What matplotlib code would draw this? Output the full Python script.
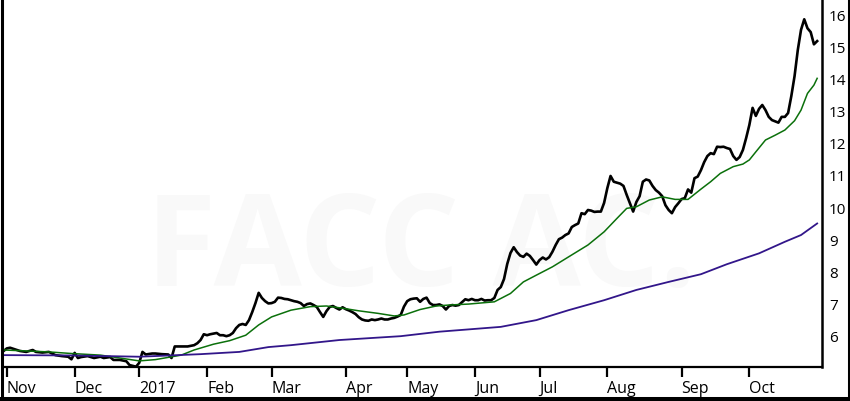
import matplotlib

matplotlib.use("Agg")
import matplotlib.pyplot as plt
from matplotlib.lines import Line2D

# trading-session number (0 = first session of Nov 2016) and closing price
PRICE_DAY = [
    -1, 0, 1, 4, 6, 8, 9, 11, 13, 15, 17, 19, 20, 21, 22, 23, 25, 27, 29, 30,
    32, 33, 35, 37, 38, 40, 41, 42, 43, 45, 46, 48, 50, 51, 52, 54, 56, 58, 59, 60,
    61, 62, 63, 64, 65, 66, 67, 68, 69, 70, 71, 72, 73, 74, 75, 76, 77, 78, 79, 80,
    81, 82, 83, 84, 85, 86, 87, 88, 89, 90, 91, 92, 93, 94, 95, 96, 97, 98, 99, 100,
    101, 102, 103, 104, 105, 106, 107, 108, 109, 110, 111, 112, 113, 114, 115, 116, 117, 118, 119, 120,
    121, 122, 123, 124, 125, 126, 127, 128, 129, 130, 131, 132, 133, 134, 135, 136, 137, 138, 139, 140,
    141, 142, 143, 144, 145, 146, 147, 148, 149, 150, 151, 152, 153, 154, 155, 156, 157, 158, 159, 160,
    161, 162, 163, 164, 165, 166, 167, 168, 169, 170, 171, 172, 173, 174, 175, 176, 177, 178, 179, 180,
    181, 182, 183, 184, 185, 186, 187, 188, 189, 190, 191, 192, 193, 194, 195, 196, 197, 198, 199, 200,
    201, 202, 203, 204, 205, 206, 207, 208, 209, 210, 211, 212, 213, 214, 215, 216, 217, 218, 219, 220,
    221, 222, 223, 224, 225, 226, 227, 228, 229, 230, 231, 232, 233, 234, 235, 236, 237, 238, 239, 240,
    241, 242, 243, 244, 245, 246, 247, 248, 249, 250, 251,
]
PRICE = [
    5.55, 5.63, 5.65, 5.55, 5.52, 5.58, 5.52, 5.50, 5.52, 5.42, 5.39, 5.37, 5.29, 5.49, 5.33, 5.36, 5.39, 5.33, 5.37, 5.33,
    5.36, 5.27, 5.27, 5.23, 5.11, 5.06, 5.18, 5.52, 5.44, 5.47, 5.47, 5.45, 5.44, 5.33, 5.69, 5.69, 5.69, 5.73, 5.79, 5.89,
    6.07, 6.04, 6.07, 6.09, 6.11, 6.04, 6.04, 6.01, 6.04, 6.11, 6.26, 6.36, 6.39, 6.36, 6.51, 6.76, 7.04, 7.36, 7.20, 7.10,
    7.03, 7.04, 7.08, 7.21, 7.20, 7.17, 7.16, 7.13, 7.10, 7.08, 7.04, 6.95, 7.01, 7.03, 6.98, 6.92, 6.76, 6.61, 6.79, 6.92,
    6.95, 6.89, 6.84, 6.91, 6.85, 6.81, 6.76, 6.70, 6.60, 6.53, 6.50, 6.49, 6.53, 6.51, 6.53, 6.56, 6.53, 6.53, 6.56, 6.58,
    6.62, 6.67, 6.93, 7.10, 7.16, 7.18, 7.19, 7.08, 7.17, 7.21, 7.04, 6.98, 6.98, 7.00, 6.95, 6.84, 6.95, 6.98, 6.96, 6.98,
    7.07, 7.16, 7.13, 7.17, 7.13, 7.13, 7.17, 7.12, 7.13, 7.13, 7.20, 7.45, 7.54, 7.79, 8.26, 8.60, 8.78, 8.63, 8.52, 8.48,
    8.58, 8.51, 8.38, 8.24, 8.38, 8.46, 8.40, 8.47, 8.64, 8.85, 9.03, 9.08, 9.16, 9.21, 9.41, 9.47, 9.52, 9.84, 9.81, 9.94,
    9.92, 9.88, 9.89, 9.89, 10.16, 10.62, 11.00, 10.82, 10.79, 10.76, 10.69, 10.41, 10.15, 9.89, 10.19, 10.37, 10.82, 10.89, 10.86, 10.69,
    10.56, 10.48, 10.37, 10.09, 9.94, 9.84, 10.03, 10.15, 10.28, 10.31, 10.58, 10.48, 10.93, 10.98, 11.18, 11.43, 11.62, 11.71, 11.68, 11.91,
    11.90, 11.91, 11.87, 11.84, 11.62, 11.50, 11.59, 11.81, 12.18, 12.59, 13.12, 12.87, 13.09, 13.21, 13.05, 12.84, 12.74, 12.70, 12.66, 12.84,
    12.84, 12.96, 13.49, 14.11, 14.92, 15.55, 15.88, 15.60, 15.48, 15.10, 15.20,
]

# 50-day moving average (green)
MA50_DAY = [
    -1, 13, 20, 29, 35, 41, 46, 50, 54, 58, 64, 69, 74, 78, 82, 88, 94, 99, 104, 109,
    115, 120, 123, 128, 133, 137, 143, 151, 156, 160, 164, 169, 174, 180, 185, 189, 192, 195, 199, 203,
    207, 211, 215, 218, 221, 225, 228, 230, 232, 235, 238, 241, 244, 246, 248, 250, 251,
]
MA50 = [
    5.58, 5.52, 5.47, 5.42, 5.33, 5.24, 5.28, 5.35, 5.42, 5.58, 5.76, 5.87, 6.04, 6.36, 6.61, 6.82, 6.93, 6.95, 6.88, 6.80,
    6.72, 6.64, 6.67, 6.84, 6.95, 6.98, 7.01, 7.08, 7.34, 7.70, 7.91, 8.17, 8.48, 8.85, 9.26, 9.68, 9.99, 10.04, 10.25, 10.35,
    10.27, 10.27, 10.59, 10.82, 11.08, 11.29, 11.37, 11.50, 11.75, 12.12, 12.27, 12.43, 12.72, 13.05, 13.57, 13.83, 14.04,
]

# 200-day moving average (purple)
MA200_DAY = [-1, 20, 41, 60, 72, 81, 88, 103, 122, 134, 153, 164, 174, 185, 195, 205, 215, 223, 233, 241, 246, 251]
MA200 = [5.42, 5.41, 5.37, 5.45, 5.52, 5.67, 5.73, 5.89, 6.01, 6.15, 6.30, 6.51, 6.82, 7.13, 7.45, 7.70, 7.94, 8.25, 8.59, 8.95, 9.16, 9.52]

MONTH_DAY = [0, 21, 41, 62, 82, 105, 124, 145, 165, 186, 209, 230]
MONTH_LABELS = ["Nov", "Dec", "2017", "Feb", "Mar", "Apr", "May", "Jun", "Jul", "Aug", "Sep", "Oct"]
Y_TICKS = [6, 7, 8, 9, 10, 11, 12, 13, 14, 15, 16]

plt.rcParams["font.family"] = ["Open Sans", "DejaVu Sans"]

fig = plt.figure(figsize=(8.5, 4.01), dpi=100)
ax = fig.add_axes([3 / 850, 34 / 401, 819 / 850, 367 / 401])

# faint watermark
ax.text(0.51, 0.31, "FACC AC.", transform=ax.transAxes, ha="center", va="center",
        fontsize=92, fontweight="bold", color="#f9f9f9", zorder=0)

ax.plot(PRICE_DAY, PRICE, color="black", lw=1.9, zorder=3)
ax.plot(MA50_DAY, MA50, color="#0b700b", lw=1.1, zorder=4)
ax.plot(MA200_DAY, MA200, color="#32168a", lw=1.3, zorder=5)

ax.set_xlim(-1.2, 252.5)
ax.set_ylim(5.05, 16.48)

ax.set_xticks(MONTH_DAY)
ax.set_xticklabels(MONTH_LABELS, ha="left")
ax.tick_params(axis="x", direction="out", length=7, width=1.6, color="black",
               labelsize=11.5, pad=3)

ax.yaxis.tick_right()
ax.set_yticks(Y_TICKS)
ax.tick_params(axis="y", length=0, labelsize=11, pad=5)

for side in ("top", "left"):
    ax.spines[side].set_visible(False)
ax.spines["bottom"].set_linewidth(1.6)
ax.spines["right"].set_linewidth(1.8)

# black frame around the picture (left, right, bottom)
fig.add_artist(Line2D([1.5 / 850, 1.5 / 850], [0, 1], transform=fig.transFigure, color="black", lw=2.2))
fig.add_artist(Line2D([848.5 / 850, 848.5 / 850], [0, 1], transform=fig.transFigure, color="black", lw=2.2))
fig.add_artist(Line2D([0, 1], [2 / 401, 2 / 401], transform=fig.transFigure, color="black", lw=2.9))

fig.savefig("out.png", dpi=100, facecolor="white")
